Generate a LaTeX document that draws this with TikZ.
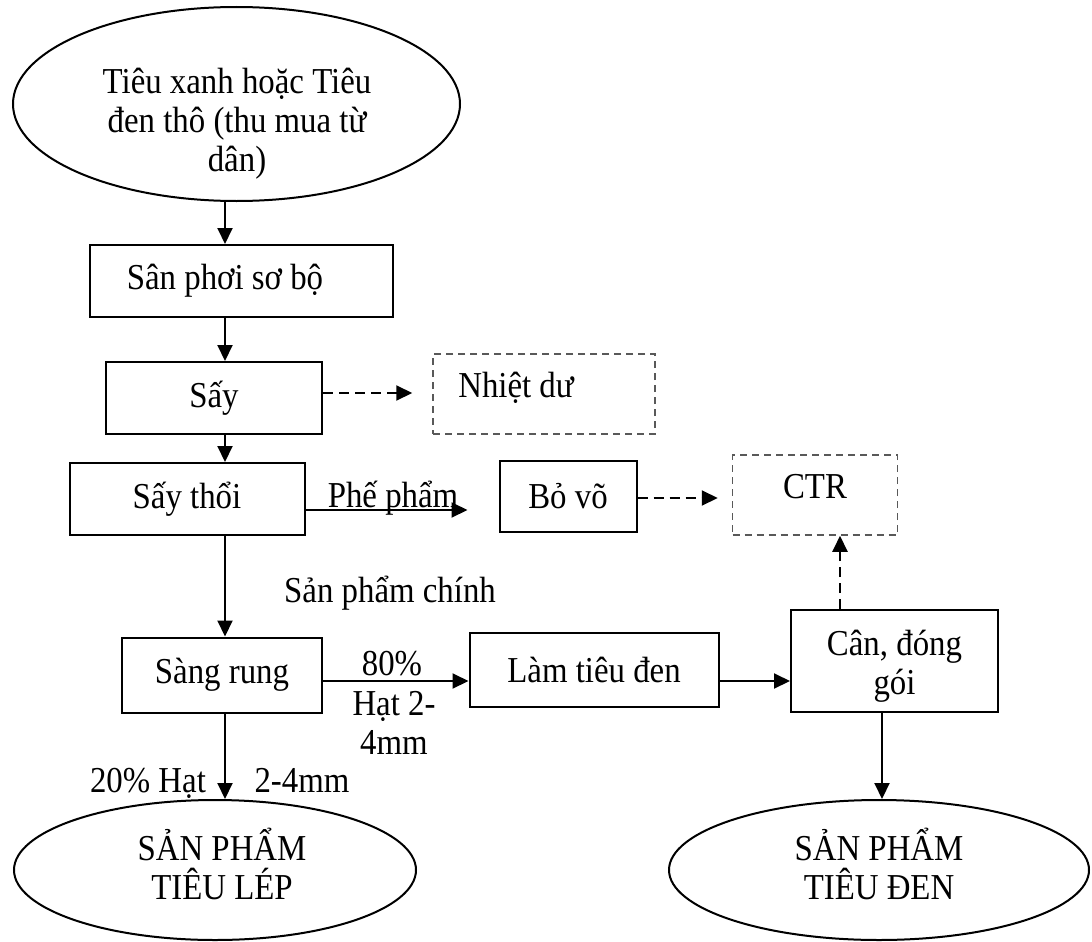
\documentclass[tikz,border=0pt]{standalone}
\usepackage{fontspec}
\setmainfont[FakeStretch=0.9]{Liberation Serif}
\usetikzlibrary{arrows.meta,shapes.geometric}

\begin{document}
\begin{tikzpicture}[x=1pt,y=-1pt,
  every node/.style={font=\fontsize{36.5}{39}\selectfont, align=center, inner sep=0pt},
  box/.style={draw, line width=2pt, rectangle},
  dbox/.style={draw=black!65, line width=1.5pt, dash pattern=on 7pt off 5pt, rectangle},
  oval/.style={draw, line width=2pt, ellipse},
  arr/.style={line width=2pt, -{Triangle[length=16pt,width=15pt]}},
  darr/.style={arr, dash pattern=on 10pt off 6pt},
]
\useasboundingbox (0,0) rectangle (1092,942);

% process nodes
\node[oval, minimum width=447pt, minimum height=194pt] (src) at (236.5,104) {};
\node (srct) at (237,124) {Tiêu xanh hoặc Tiêu\\đen thô (thu mua từ\\dân)};

\node[box, minimum width=303pt, minimum height=72pt] (san) at (241,281) {};
\node (sant) at (225,281) {Sân phơi sơ bộ};

\node[box, minimum width=216pt, minimum height=72pt] (say) at (214,398) {Sấy};

\node[dbox, minimum width=222pt, minimum height=80pt] (nhiet) at (544,394) {};
\node[anchor=base] (nhiett) at (516,397) {Nhiệt dư};

\node[box, minimum width=235pt, minimum height=72pt] (saythoi) at (187,499) {Sấy thổi};
\node[box, minimum width=137pt, minimum height=71pt] (bovo) at (568,496.5) {Bỏ võ};

\node[dbox, minimum width=165pt, minimum height=80pt] (ctr) at (815,495) {};
\node[anchor=base] (ctrt) at (815,498) {CTR};

\node[box, minimum width=200pt, minimum height=75pt] (sang) at (222,675) {Sàng rung};
\node[box, minimum width=249pt, minimum height=74pt] (lam) at (594,670) {Làm tiêu đen};
\node[box, minimum width=207pt, minimum height=102pt] (can) at (894.5,661) {};
\node (cant) at (894.5,666) {Cân, đóng\\gói};

\node[oval, minimum width=402pt, minimum height=140pt] (lep) at (215,870) {};
\node (lept) at (222,864) {SẢN PHẨM\\TIÊU LÉP};
\node[oval, minimum width=420pt, minimum height=140pt] (den) at (879,870) {};
\node (dent) at (879,864) {SẢN PHẨM\\TIÊU ĐEN};

% helper coordinates for connector lines
\coordinate (tx) at (225,0);
\coordinate (sy) at (0,393);
\coordinate (py) at (0,510);
\coordinate (my) at (0,681);
\coordinate (cx) at (840,0);
\coordinate (dx) at (882,0);

% main flow
\draw[arr] (src.south -| tx) -- (san.north -| tx);
\draw[arr] (san.south -| tx) -- (say.north -| tx);
\draw[arr] (say.south -| tx) -- (saythoi.north -| tx);
\draw[arr] (saythoi.south -| tx) -- (sang.north -| tx);
\draw[arr] (sang.south -| tx) -- (lep.north -| tx);
\draw[arr] (sang.east |- my) -- (lam.west |- my);
\draw[arr] (lam.east |- my) -- (can.west |- my);
\draw[arr] (can.south -| dx) -- (den.north -| dx);
\draw[arr, shorten >=31pt] (saythoi.east |- py) -- (bovo.west |- py);

% by-products
\draw[darr, shorten >=20pt] (say.east |- sy) -- (nhiet.west |- sy);
\draw[darr, shorten >=14pt] (bovo.east |- ctrt.base) -- (ctr.west |- ctrt.base);
\draw[darr] (can.north -| cx) -- (ctr.south -| cx);

% labels
\node[anchor=base] (phe) at (393,507) {Phế phẩm};
\node[anchor=base] (spc) at (390,602) {Sản phẩm chính};
\node[anchor=base] (p80) at (392,675) {80\%};
\node (hat) at (394,722.5) {Hạt 2-\\4mm};
\node[anchor=base] (p20) at (148,792) {20\% Hạt};
\node[anchor=base] (mm) at (302,792) {2-4mm};
\end{tikzpicture}
\end{document}
